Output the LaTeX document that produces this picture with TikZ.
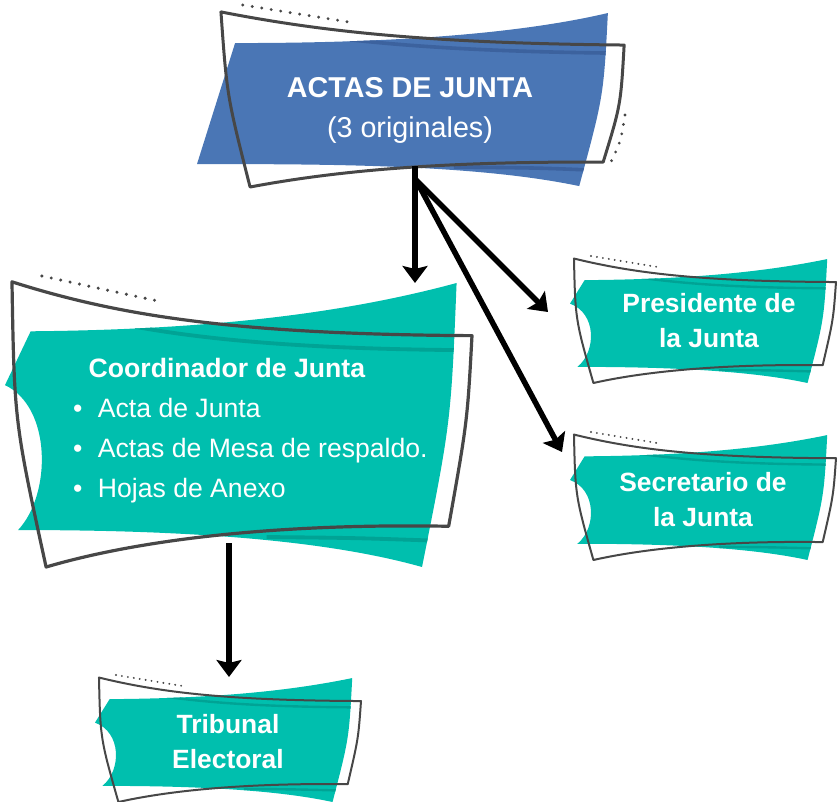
\documentclass[tikz,border=0pt]{standalone}
\usepackage{fontspec}
\setmainfont{Liberation Sans}
\usepackage{tikz}
\usetikzlibrary{arrows.meta}
\definecolor{actablue}{HTML}{4A76B5}
\definecolor{actashade}{HTML}{3C629E}
\definecolor{juntateal}{HTML}{00BFAE}
\definecolor{juntashade}{HTML}{00A395}
\definecolor{framegray}{HTML}{474747}
\tikzstyle{bannerframe} = [draw=framegray, line join=round]
\tikzstyle{bannertext} = [text=white, align=center, inner sep=0pt]
\tikzstyle{arrow} = [-{Stealth[length=17pt, width=25pt, inset=3pt]}, line width=5.5pt]
% outlines in a unit box, v going up
\newcommand{\tealfill}{(0.055,0.81) .. controls (0.4,0.815) and (0.7,0.86) .. (0.967,0.976)
	.. controls (0.955,0.5) .. (0.893,0) .. controls (0.65,0.11) and (0.3,0.127) .. (0.028,0.127)
	.. controls (0.1,0.25) and (0.1,0.55) .. (0,0.625) -- cycle}
\newcommand{\tealframe}{(0.015,0.98) .. controls (0.25,0.86) and (0.5,0.80) .. (1,0.795)
	.. controls (0.99,0.5) .. (0.95,0.14) .. controls (0.6,0.15) and (0.3,0.1) .. (0.088,0)
	.. controls (0.02,0.5) .. cycle}
\newcommand{\bluefill}{(0.089,0.791) .. controls (0.45,0.79) and (0.75,0.84) .. (0.96,0.956)
	.. controls (0.95,0.5) .. (0.893,0.005) .. controls (0.65,0.125) and (0.3,0.126) .. (0,0.126) -- cycle}
\newcommand{\blueframe}{(0.056,0.962) .. controls (0.3,0.85) and (0.55,0.79) .. (0.998,0.78)
	.. controls (0.99,0.45) .. (0.949,0.137) .. controls (0.6,0.14) and (0.35,0.1) .. (0.124,0)
	.. controls (0.07,0.5) .. cycle}
% #1 left, #2 bottom, #3 width, #4 height, #5 line scale
\newcommand{\tealbanner}[5]{
	\pgfmathsetmacro{\dotgap}{3*#5}
	\begin{scope}[shift={(#1,#2)}, xscale=#3, yscale=-#4]
		\fill[juntateal] \tealfill;
		\begin{scope}
			\clip \tealfill;
			\draw[juntashade, line width=1.2*#5pt] (0.015,0.93) .. controls (0.25,0.81) and (0.5,0.75) .. (1,0.745);
			\draw[juntashade, line width=1.2*#5pt] (0.56,0.103) .. controls (0.75,0.1) .. (0.93,0.09);
		\end{scope}
		\draw[bannerframe, line width=#5pt] \tealframe;
		\draw[framegray, line width=1.05*#5pt, line cap=round, dash pattern=on 0pt off \dotgap pt] (0.079,1) -- (0.336,0.911);
	\end{scope}}
\newcommand{\bluebanner}[5]{
	\pgfmathsetmacro{\dotgap}{3.2*#5}
	\begin{scope}[shift={(#1,#2)}, xscale=#3, yscale=-#4]
		\fill[actablue] \bluefill;
		\begin{scope}
			\clip \bluefill;
			\draw[actashade, line width=1.2*#5pt] (0.056,0.917) .. controls (0.3,0.805) and (0.55,0.745) .. (0.998,0.735);
			\draw[actashade, line width=1.2*#5pt] (0.6,0.11) .. controls (0.8,0.105) .. (0.95,0.09);
		\end{scope}
		\draw[bannerframe, line width=#5pt] \blueframe;
		\draw[framegray, line width=1.05*#5pt, line cap=round, dash pattern=on 0pt off \dotgap pt] (0.107,1) -- (0.353,0.907);
		\draw[framegray, line width=1.05*#5pt, line cap=round, dash pattern=on 0pt off \dotgap pt] (1,0.396) .. controls (0.99,0.25) .. (0.967,0.137);
	\end{scope}}

\begin{document}
\begin{tikzpicture}[x=1pt, y=-1pt]
	\useasboundingbox (0,0) rectangle (838,801);
	
	\bluebanner{197}{187}{428}{182}{3}
	\tealbanner{5}{567}{467}{291}{3.2}
	\tealbanner{570}{383}{266}{127}{2}
	\tealbanner{570}{560}{266}{128}{2}
	\tealbanner{95}{802}{266}{127}{2}
	
	%textos
	\node (actas) [bannertext, font=\fontsize{28.7}{40}\selectfont] at (410,110) {\textbf{ACTAS DE JUNTA}\\(3 originales)};
	\node (coord) [bannertext, align=left, anchor=north west, font=\fontsize{26.6}{40}\selectfont] at (73,358.5)
		{\hspace*{15.5pt}\textbf{Coordinador de Junta}\\
		\textbullet\hspace{15.4pt}Acta de Junta\\
		\textbullet\hspace{15.4pt}Actas de Mesa de respaldo.\\
		\textbullet\hspace{15.4pt}Hojas de Anexo};
	\node (pres) [bannertext, font=\fontsize{26.4}{35}\selectfont\bfseries] at (709,321) {Presidente de\\la Junta};
	\node (secr) [bannertext, font=\fontsize{26.4}{35}\selectfont\bfseries] at (703,500) {Secretario de\\la Junta};
	\node (trib) [bannertext, font=\fontsize{26.4}{35}\selectfont\bfseries] at (228,742) {Tribunal\\Electoral};
	
	%flechas
	\coordinate (actas-out) at (415,166);
	\coordinate (fork) at (416,180);
	\coordinate (coord-in) at (415,283);
	\coordinate (pres-in) at (548,312);
	\coordinate (secr-in) at (562,452);
	\coordinate (coord-out) at (229,543);
	\coordinate (trib-in) at (229,677);
	\draw [arrow] (fork) -- (pres-in);
	\draw [arrow] (fork) -- (secr-in);
	\draw [arrow] (actas-out) -- (coord-in);
	\draw [arrow] (coord-out) -- (trib-in);
\end{tikzpicture}
\end{document}
